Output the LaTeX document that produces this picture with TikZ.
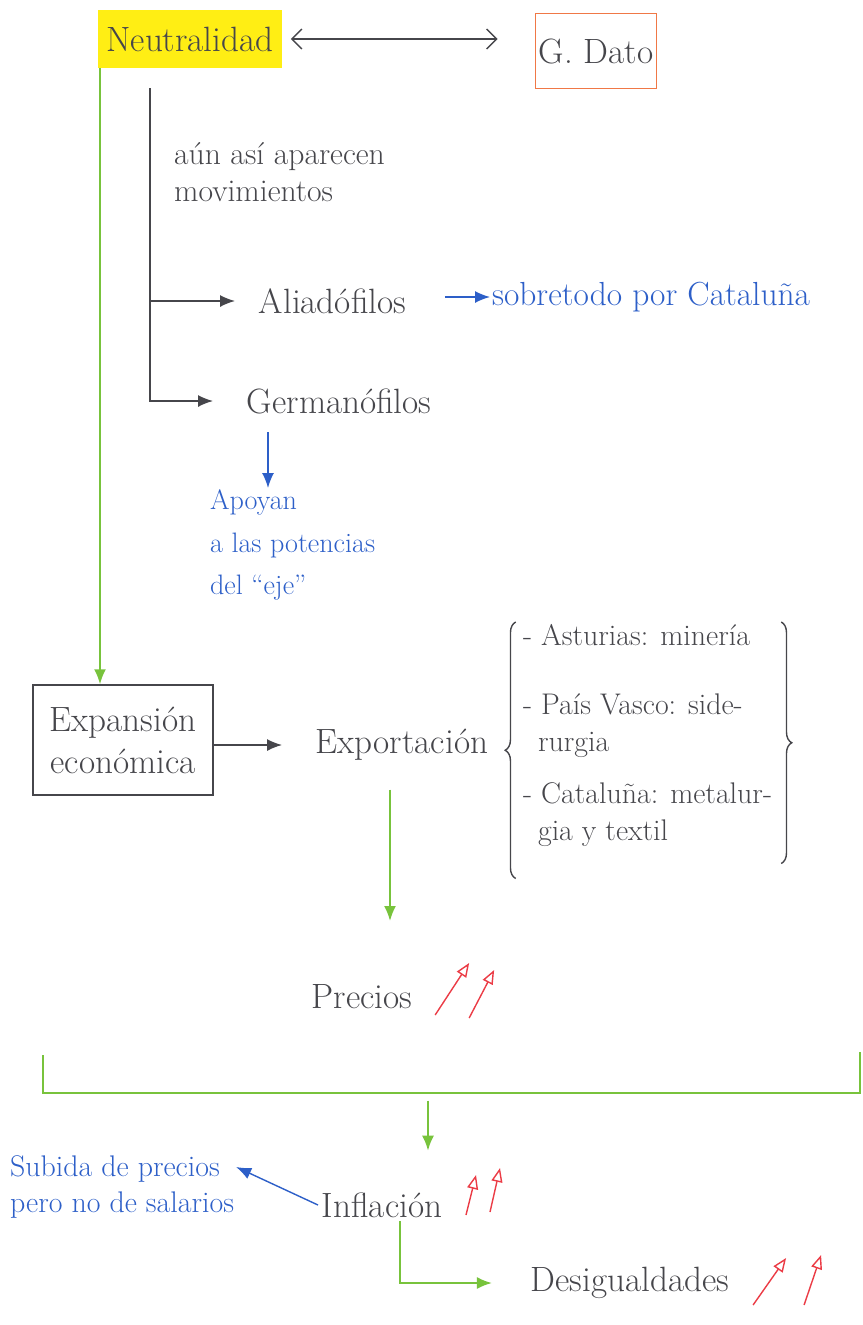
\documentclass[tikz,border=0pt]{standalone}
\usepackage{tikz}
\usetikzlibrary{arrows.meta, positioning, calc, decorations.pathreplacing}
\definecolor{mygray}{RGB}{70,70,75}
\definecolor{mygreen}{RGB}{120,195,60}
\definecolor{myblue}{RGB}{45,95,200}
\definecolor{myred}{RGB}{235,60,70}
\definecolor{myorange}{RGB}{240,120,70}
\definecolor{hlyellow}{RGB}{255,238,20}
\tikzset{
  term/.style={font=\fontsize{20}{24}\selectfont, text=mygray, inner sep=2pt},
  note/.style={font=\fontsize{18}{21}\selectfont, text=mygray, align=left, inner sep=1pt},
  bnote/.style={note, text=myblue},
  arrow/.style={-{Latex[length=3mm,width=2.4mm]}, thick, color=mygray},
  garrow/.style={-{Latex[length=3mm,width=2.4mm]}, line width=1.1pt, color=mygreen},
  barrow/.style={-{Latex[length=3mm,width=2.4mm]}, thick, color=myblue},
  rarrow/.style={-{Triangle[open,length=2.8mm,width=2.2mm]}, thick, color=myred},
  line/.style={thick, color=mygray},
  gline/.style={line width=1.1pt, color=mygreen},
  brc/.style={decorate, decoration={brace, amplitude=6pt}, thick, color=mygray}
}

\begin{document}
\begin{tikzpicture}[x=0.02cm, y=-0.02cm]
  \useasboundingbox (0,0) rectangle (862,1325);

  % Neutralidad and G. Dato
  \node[term, fill=hlyellow, minimum width=3.7cm, minimum height=1.15cm] (neutral) at (190,39) {Neutralidad};
  \node[term, draw=myorange, thick, minimum width=2.36cm, minimum height=1.5cm] (dato) at (596,51) {G. Dato};
  \draw[{Straight Barb[length=2mm]}-{Straight Barb[length=2mm]}, thick, mygray, shorten <=0.16cm, shorten >=0.74cm]
    (neutral.east) -- (neutral.east -| dato.west);

  % movements
  \coordinate (trunk) at (150,88);
  \node[note, anchor=west] (mov) at (172,172) {aún así aparecen\\movimientos};
  \node[term, anchor=west] (alia) at (255,301) {Aliadófilos};
  \node[term, anchor=west] (germ) at (243,401) {Germanófilos};
  \draw[arrow, shorten >=0.6cm] (trunk) |- (germ.west);
  \draw[arrow, shorten >=0.4cm] (trunk |- alia.west) -- (alia.west);
  \node[bnote, anchor=west, font=\fontsize{19}{22}\selectfont] (cata) at (490,297) {sobretodo por Cataluña};
  \draw[barrow, shorten <=0.7cm] (cata.west -| alia.east) -- (cata.west);
  \node[bnote, anchor=north west, font=\fontsize{16}{24}\selectfont] (apoyan) at (208,488) {Apoyan\\a las potencias\\del ``eje''};
  \draw[barrow, shorten <=0.3cm] ([xshift=0.5cm]germ.south west) -- ([xshift=0.5cm]germ.south west |- apoyan.north);

  % Expansion
  \node[term, draw=mygray, thick, align=center, minimum width=3.6cm, minimum height=2.2cm] (expan) at (123,740) {Expansión\\económica};
  \coordinate (gstart) at (100,68);
  \draw[garrow] (gstart) -- (gstart |- expan.north);
  \node[term] (expor) at (402,745) {Exportación};
  \draw[arrow, shorten >=0.6cm] (expor.west -| expan.east) -- (expor.west);
  \node[note, anchor=north west, font=\fontsize{17}{21}\selectfont] (sectors) at (521,622)
    {- Asturias: minería\\[0.65cm]
     - País Vasco: side-\\\hspace*{0.5em}rurgia\\[0.3cm]
     - Cataluña: metalur-\\\hspace*{0.5em}gia y textil};
  \draw[brc] ([xshift=-3pt,yshift=-0.6cm]sectors.south west) -- ([xshift=-3pt]sectors.north west);
  \draw[brc] ([xshift=4pt]sectors.north east) -- ([xshift=4pt,yshift=-0.3cm]sectors.south east);

  % Precios
  \node[term] (precios) at (362,997) {Precios};
  \draw[garrow, shorten <=0.5cm, shorten >=1.2cm] ([xshift=-0.24cm]expor.south) -- ([xshift=-0.24cm]expor.south |- precios.north);
  \draw[rarrow] ($(precios.east)+(19,18)$) -- ++(34,-52);
  \draw[rarrow] ($(precios.east)+(53,21)$) -- ++(25,-48);

  % group and Inflacion
  \coordinate (grpL) at (43,1055);
  \coordinate (grpR) at (860,1052);
  \coordinate (grpM) at (428,1093);
  \draw[gline] (grpL) |- (grpM) -| (grpR);
  \node[term] (infla) at (382,1205) {Inflación};
  \draw[garrow, shorten <=0.15cm, shorten >=0.76cm] (grpM) -- (grpM |- infla.north);
  \draw[rarrow] ($(infla.east)+(20,10)$) -- ++(10,-40);
  \draw[rarrow] ($(infla.east)+(44,7)$) -- ++(10,-44);
  \node[bnote, anchor=west, font=\fontsize{17}{21}\selectfont] (subida) at (8,1187) {Subida de precios\\pero no de salarios};
  \draw[barrow] (infla.west) -- ([yshift=0.4cm]subida.east);

  % Desigualdades
  \node[term] (desig) at (630,1283) {Desigualdades};
  \draw[garrow, shorten >=0.7cm] ([xshift=0.36cm]infla.south) |- (desig.west);
  \draw[rarrow] ($(desig.east)+(20,22)$) -- ++(33,-47);
  \draw[rarrow] ($(desig.east)+(71,22)$) -- ++(17,-50);
\end{tikzpicture}
\end{document}
